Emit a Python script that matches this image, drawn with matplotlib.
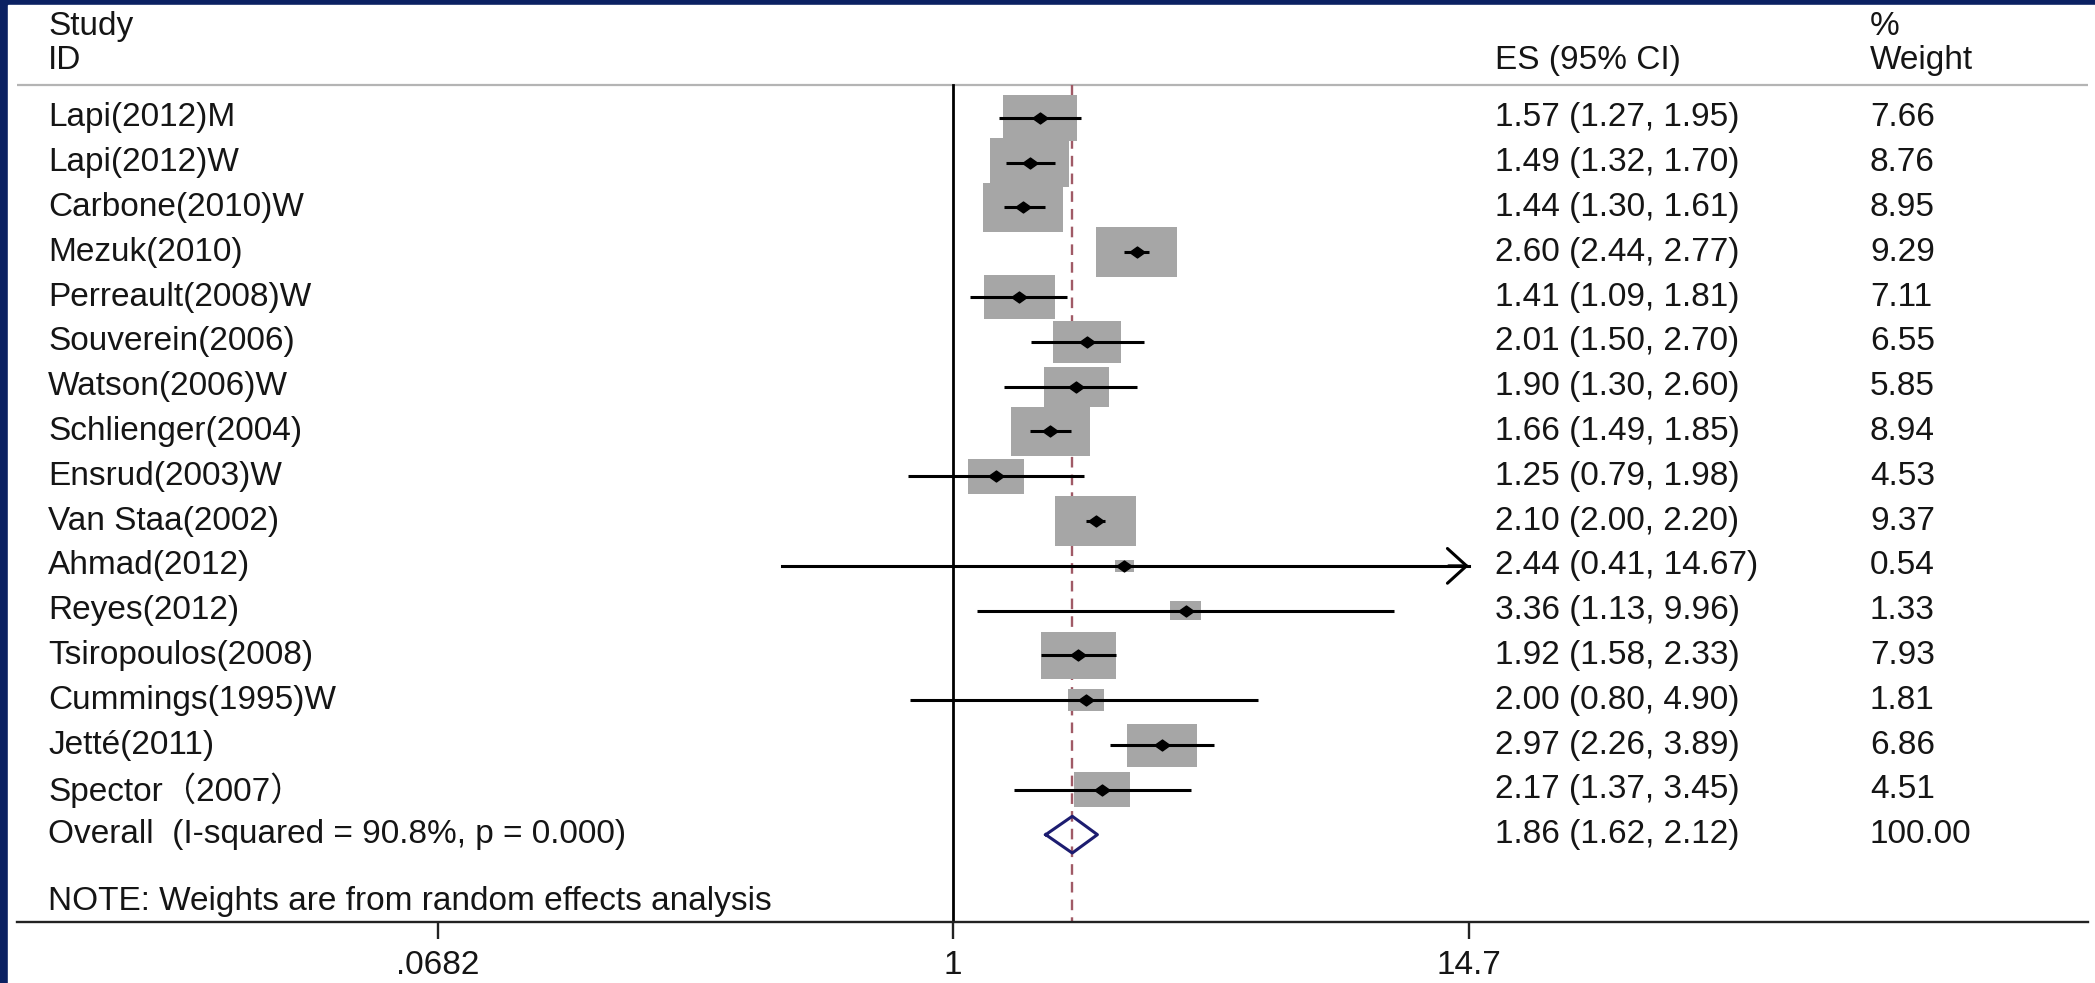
import matplotlib
matplotlib.use('Agg')
import matplotlib.pyplot as plt
import matplotlib.transforms as mtransforms
from matplotlib.patches import Rectangle
import numpy as np

plt.rcParams['font.family'] = ['Liberation Sans', 'Noto Sans CJK SC', 'DejaVu Sans']

########## DATA ##########
studies = ['Lapi(2012)M', 'Lapi(2012)W', 'Carbone(2010)W', 'Mezuk(2010)',
           'Perreault(2008)W', 'Souverein(2006)', 'Watson(2006)W',
           'Schlienger(2004)', 'Ensrud(2003)W', 'Van Staa(2002)',
           'Ahmad(2012)', 'Reyes(2012)', 'Tsiropoulos(2008)',
           'Cummings(1995)W', 'Jetté(2011)', 'Spector（2007）']
es = [1.57, 1.49, 1.44, 2.60, 1.41, 2.01, 1.90, 1.66, 1.25, 2.10,
      2.44, 3.36, 1.92, 2.00, 2.97, 2.17]
ci_lo = [1.27, 1.32, 1.30, 2.44, 1.09, 1.50, 1.30, 1.49, 0.79, 2.00,
         0.41, 1.13, 1.58, 0.80, 2.26, 1.37]
ci_hi = [1.95, 1.70, 1.61, 2.77, 1.81, 2.70, 2.60, 1.85, 1.98, 2.20,
         14.67, 9.96, 2.33, 4.90, 3.89, 3.45]
weights = [7.66, 8.76, 8.95, 9.29, 7.11, 6.55, 5.85, 8.94, 4.53, 9.37,
           0.54, 1.33, 7.93, 1.81, 6.86, 4.51]

overall_label = 'Overall  (I-squared = 90.8%, p = 0.000)'
overall_es, overall_lo, overall_hi, overall_w = 1.86, 1.62, 2.12, 100.00
note = 'NOTE: Weights are from random effects analysis'

xticks = [0.0682, 1, 14.7]
xticklabels = ['.0682', '1', '14.7']

########## STYLE ##########
NAVY = '#0b2162'
BOX = '#a6a6a6'
TXT = '#151515'
FS = 24
BOX_W = 0.0693   # half width (log units) per sqrt(weight)
BOX_H = 0.183    # half height (rows) per sqrt(weight)

fig = plt.figure(figsize=(20.95, 9.83), dpi=100, facecolor=NAVY)
fig.patches.append(Rectangle((8 / 2095, 0), 1, 1 - 5 / 983,
                             transform=fig.transFigure, color='white', zorder=-10))

ax = fig.add_axes([17 / 2095, 61 / 983, 2071 / 2095, 917 / 983])
ax.set_zorder(1)
ax.set_facecolor('none')
ax.set_xscale('log')
ax.set_xlim(0.00763, 369)
ax.set_ylim(17.95, -2.52)

n = len(studies)
rows = np.arange(n)
header_y = -0.74
overall_y = n
note_y = n + 1.5

blend = mtransforms.blended_transform_factory(ax.transAxes, ax.transData)
col_study, col_es, col_w = 0.015, 0.7137, 0.8947

########## HEADER ##########
ax.text(col_study, -2.03, 'Study', transform=blend, fontsize=FS, va='center', color=TXT)
ax.text(col_study, -1.29, 'ID', transform=blend, fontsize=FS, va='center', color=TXT)
ax.text(col_es, -1.29, 'ES (95% CI)', transform=blend, fontsize=FS, va='center', color=TXT)
ax.text(col_w, -2.03, '%', transform=blend, fontsize=FS, va='center', color=TXT)
ax.text(col_w, -1.29, 'Weight', transform=blend, fontsize=FS, va='center', color=TXT)
ax.plot([0, 1], [header_y, header_y], transform=blend, color='#b4b4b4', lw=1.6,
        solid_capstyle='butt')

########## REFERENCE LINES ##########
ax.plot([1, 1], [header_y, 17.95], color='black', lw=2.0, zorder=2)
ax.plot([overall_es, overall_es], [header_y, 17.95], color='#a05a66', lw=1.7,
        dashes=(4.5, 3), zorder=2)

########## STUDIES ##########
diamond_marker = [(-1.4, 0), (0, 1), (1.4, 0), (0, -1), (-1.4, 0)]
for i in range(n):
    y = rows[i]
    hw = BOX_W * np.sqrt(weights[i])
    hh = BOX_H * np.sqrt(weights[i])
    ax.add_patch(Rectangle((es[i] * np.exp(-hw), y - hh),
                           es[i] * np.exp(hw) - es[i] * np.exp(-hw), 2 * hh,
                           facecolor=BOX, edgecolor='none', zorder=3))
    if ci_hi[i] >= 14.5:
        ax.plot([ci_lo[i], ci_hi[i]], [y, y], color='black', lw=2.2, zorder=4)
        ax.annotate('', xy=(ci_hi[i], y), xytext=(ci_hi[i] * 0.9, y),
                    arrowprops=dict(arrowstyle='->,head_length=0.55,head_width=0.5',
                                    color='black', lw=2.2, mutation_scale=25,
                                    shrinkA=0, shrinkB=0), zorder=4)
    else:
        ax.plot([ci_lo[i], ci_hi[i]], [y, y], color='black', lw=2.2, zorder=4,
                solid_capstyle='butt')
    ax.plot(es[i], y, marker=diamond_marker, color='black', ms=11, zorder=5)

    ax.text(col_study, y, studies[i], transform=blend, fontsize=FS, va='center', color=TXT)
    ax.text(col_es, y, f'{es[i]:.2f} ({ci_lo[i]:.2f}, {ci_hi[i]:.2f})', transform=blend,
            fontsize=FS, va='center', color=TXT)
    ax.text(col_w, y, f'{weights[i]:.2f}', transform=blend, fontsize=FS, va='center',
            color=TXT)

########## OVERALL ##########
dh = 0.41
ax.plot([overall_lo, overall_es, overall_hi, overall_es, overall_lo],
        [overall_y, overall_y - dh, overall_y, overall_y + dh, overall_y],
        color='#1c1c70', lw=2.2, zorder=5)
ax.text(col_study, overall_y, overall_label, transform=blend, fontsize=FS, va='center',
        color=TXT)
ax.text(col_es, overall_y, f'{overall_es:.2f} ({overall_lo:.2f}, {overall_hi:.2f})',
        transform=blend, fontsize=FS, va='center', color=TXT)
ax.text(col_w, overall_y, f'{overall_w:.2f}', transform=blend, fontsize=FS, va='center',
        color=TXT)
ax.text(col_study, note_y, note, transform=blend, fontsize=FS, va='center', color=TXT)

########## AXIS ##########
for s in ['top', 'right', 'left']:
    ax.spines[s].set_visible(False)
ax.spines['bottom'].set_linewidth(1.7)
ax.spines['bottom'].set_color('#222222')
ax.set_yticks([])
ax.set_xticks(xticks)
ax.set_xticklabels(xticklabels)
ax.xaxis.set_minor_locator(matplotlib.ticker.NullLocator())
ax.tick_params(axis='x', length=12, width=1.7, pad=8, labelsize=FS, labelcolor=TXT,
               color='#222222')

fig.savefig('out.png', dpi=100, facecolor=fig.get_facecolor())
